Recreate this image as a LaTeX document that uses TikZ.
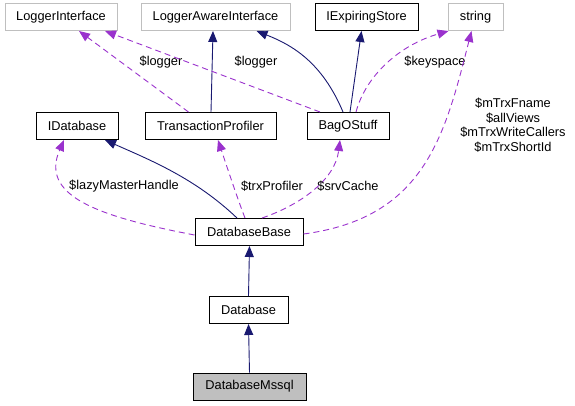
\documentclass[tikz,border=0pt]{standalone}
\usepackage{fontspec}
\setmainfont{Liberation Sans}
\usetikzlibrary{arrows.meta}
\definecolor{navyc}{HTML}{191970}
\definecolor{purc}{HTML}{9A32CD}
\definecolor{grayb}{HTML}{BFBFBF}
\begin{document}
\begin{tikzpicture}[x=1pt,y=-1pt,
  box/.style={draw=black,line width=1pt,fill=white,inner sep=0pt,minimum height=27pt,font=\fontsize{12.8}{14.5}\selectfont},
  extbox/.style={box,draw=grayb},
  inh/.style={draw=navyc,line width=0.9pt,-{Triangle[length=11pt,width=9pt]}},
  use/.style={draw=purc,line width=0.9pt,dash pattern=on 6pt off 4pt,-{Triangle[length=11pt,width=9pt]}},
  lbl/.style={font=\fontsize{12.8}{14.5}\selectfont,inner sep=0pt,align=center}]
\useasboundingbox (0,0) rectangle (575,405);
% nodes
\node[extbox,minimum width=112pt] (li) at (61,17) {LoggerInterface};
\node[extbox,minimum width=149pt] (lai) at (215.5,17) {LoggerAwareInterface};
\node[box,minimum width=103pt] (ies) at (366.5,17) {IExpiringStore};
\node[extbox,minimum width=55pt] (str) at (475.5,17) {string};
\node[box,minimum width=82pt] (idb) at (77,126) {IDatabase};
\node[box,minimum width=131pt] (tp) at (210.5,126) {TransactionProfiler};
\node[box,minimum width=82pt] (bag) at (348,126) {BagOStuff};
\node[box,minimum width=108pt] (dbb) at (249,232) {DatabaseBase};
\node[box,minimum width=79pt] (db) at (248.5,310) {Database};
\node[box,minimum width=113pt,fill=grayb] (dm) at (249.5,386.5) {DatabaseMssql};
% inheritance
\draw[inh] (dm.north) -- (db.south);
\draw[inh] (db.north) -- ([xshift=0.5pt]dbb.south);
\draw[inh] ([xshift=-12pt]dbb.north) .. controls (195,178) and (150,160) .. ([xshift=28pt]idb.south);
\draw[inh] ([xshift=0.5pt]tp.north) -- ([xshift=-2.5pt]lai.south);
\draw[inh] ([xshift=-5pt]bag.north) .. controls (322,62) and (292,45) .. ([xshift=41pt]lai.south);
\draw[inh] ([xshift=2pt]bag.north) -- ([xshift=-5pt]ies.south);
% usage
\draw[use] ([xshift=-22pt]tp.north) -- ([xshift=18pt]li.south);
\node[lbl] (lg1) at (161,62) {\$logger};
\draw[use] ([xshift=-28pt]bag.north) -- ([xshift=44pt]li.south);
\node[lbl] (lg2) at (256,62) {\$logger};
\draw[use] ([xshift=8pt]bag.north) .. controls (366,75) and (400,45) .. ([xshift=-27pt]str.south);
\node[lbl] (ks) at (435,62) {\$keyspace};
\draw[use] ([yshift=-3pt]dbb.west) .. controls (95,216) and (40,195) .. ([xshift=-13pt]idb.south);
\node[lbl] (lmh) at (124,186) {\$lazyMasterHandle};
\draw[use] ([xshift=-4pt]dbb.north) .. controls (238,200) and (228,170) .. ([xshift=7.5pt]tp.south);
\node[lbl] (trx) at (272,186) {\$trxProfiler};
\draw[use] ([xshift=13pt]dbb.north) .. controls (300,205) and (335,180) .. ([xshift=-8pt]bag.south);
\node[lbl] (srv) at (348,186) {\$srvCache};
\draw[use] ([yshift=-2pt]dbb.east) .. controls (425,218) and (445,135) .. ([xshift=-4pt]str.south);
\node[lbl] (mtx) at (513,125) {\$mTrxFname\\\$allViews\\\$mTrxWriteCallers\\\$mTrxShortId};
\end{tikzpicture}
\end{document}
